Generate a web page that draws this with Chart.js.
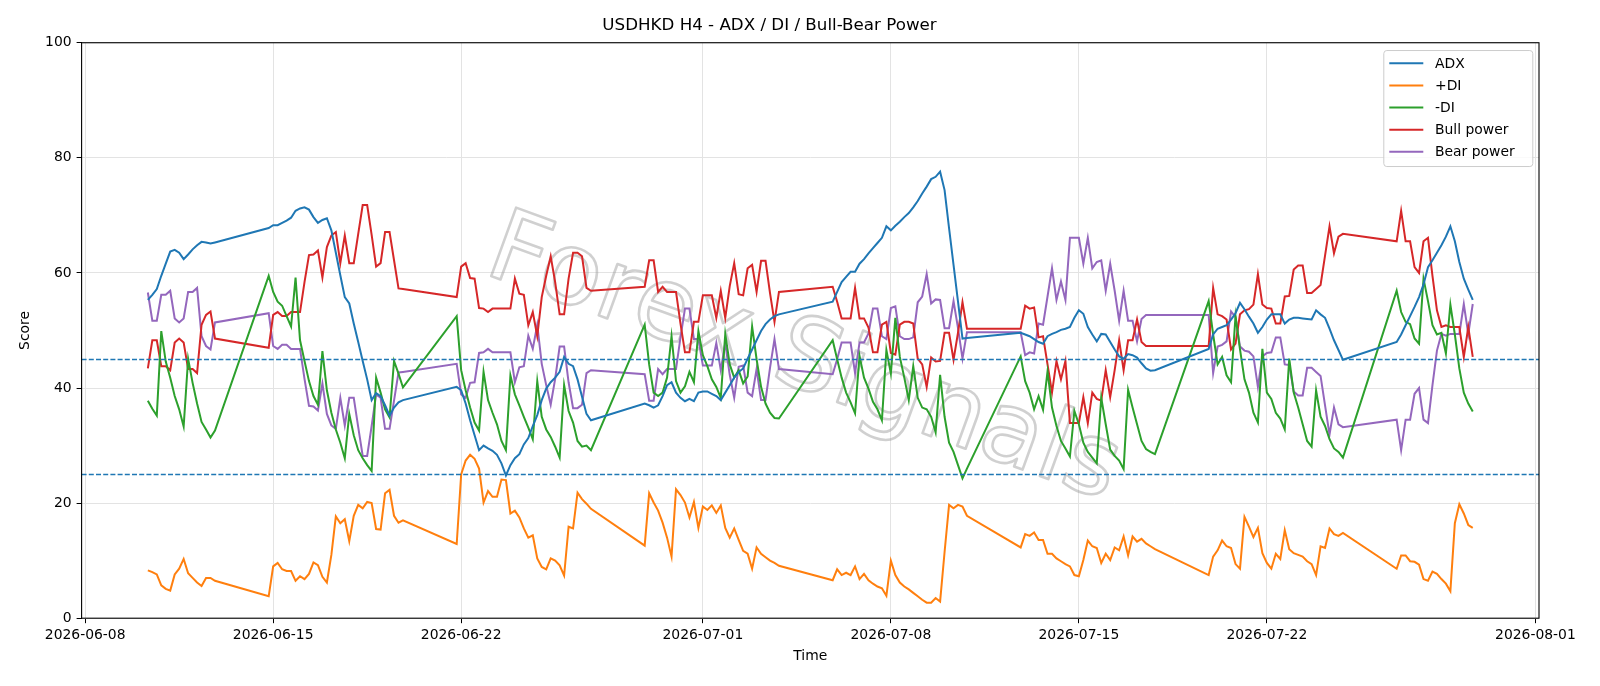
<!DOCTYPE html>
<html><head><meta charset="utf-8">
<script src="https://cdn.jsdelivr.net/npm/chart.js@4.4.1/dist/chart.umd.min.js"></script>
<style>html,body{margin:0;padding:0;background:#fff;}canvas{display:block;}</style>
</head><body>
<canvas id="c" width="1600" height="686"></canvas>
<script>
// H4 sessions: [first bar time (UTC), number of 4-hour bars]
const sessions = [
  ["2026-06-10T08:00", 16], ["2026-06-14T20:00", 31], ["2026-06-21T20:00", 31],
  ["2026-06-28T20:00", 31], ["2026-07-05T20:00", 31], ["2026-07-12T20:00", 31],
  ["2026-07-19T20:00", 31], ["2026-07-26T20:00", 18]
];
const adx = [
  55.3,56.2,57.2,59.5,61.6,63.7,64.0,63.5,62.4,63.2,64.1,64.8,65.4,65.3,65.1,65.3,
  67.8,68.3,68.3,68.7,69.1,69.6,70.8,71.2,71.4,71.0,69.7,68.7,69.2,69.5,67.4,63.5,59.6,55.8,54.7,51.2,48.0,44.7,41.5,37.9,39.1,38.6,37.0,35.2,36.6,37.5,37.9,
  40.2,39.6,37.3,34.4,31.8,29.2,30.0,29.5,29.1,28.4,26.9,24.8,26.6,27.8,28.5,30.2,31.3,33.4,35.3,37.9,39.9,41.0,41.8,42.8,45.4,44.2,43.8,41.5,38.5,35.5,34.4,
  37.3,37.0,36.6,37.0,38.6,40.5,41.0,39.2,38.3,37.7,38.1,37.7,39.2,39.4,39.4,39.0,38.6,37.9,39.2,40.5,41.8,42.8,43.4,45.1,46.7,48.3,49.9,51.1,51.9,52.5,52.8,
  55.0,56.7,58.4,59.3,60.2,60.2,61.6,62.4,63.4,64.3,65.2,66.1,68.1,67.4,68.2,68.9,69.7,70.4,71.4,72.5,73.8,75.0,76.3,76.7,77.6,74.4,67.8,61.4,55.0,48.6,48.7,
  49.6,49.3,49.0,48.5,48.0,47.7,49.0,49.4,49.7,50.1,50.3,50.6,52.2,53.5,52.9,50.6,49.3,48.1,49.4,49.3,48.0,46.7,45.5,45.1,45.9,45.7,45.3,44.3,43.4,43.0,43.1,
  46.8,49.3,50.3,50.6,50.9,51.9,53.0,54.8,53.7,52.4,51.2,49.6,50.6,51.9,52.8,52.8,52.8,51.2,51.9,52.2,52.2,52.1,52.0,51.9,53.5,52.8,52.2,50.3,48.3,46.6,44.9,
  48.0,49.3,50.9,52.5,54.1,55.8,58.0,61.0,62.2,63.5,64.8,66.3,68.1,65.5,61.9,59.0,57.1,55.3
];
const plusDI = [
  8.3,8.0,7.6,5.7,5.1,4.8,7.6,8.6,10.3,7.8,7.0,6.2,5.6,7.0,7.0,6.5,
  3.8,9.0,9.6,8.5,8.2,8.2,6.5,7.3,6.8,7.7,9.7,9.2,7.2,6.2,11.0,17.7,16.5,17.2,13.4,17.8,19.7,19.1,20.2,20.0,15.5,15.4,21.7,22.3,17.8,16.6,17.0,
  12.9,25.0,27.4,28.4,27.7,26.0,20.1,22.1,21.1,21.1,24.1,24.0,18.2,18.7,17.5,15.6,14.0,14.4,10.4,8.9,8.5,10.4,10.0,9.2,7.4,15.9,15.6,21.8,20.7,19.9,19.0,
  12.6,21.7,20.1,18.7,16.6,14.0,10.7,22.4,21.4,20.1,17.5,20.2,15.7,19.4,18.8,19.6,18.3,19.6,15.7,14.0,15.6,13.6,11.7,11.2,8.6,12.3,11.2,10.6,10.0,9.6,9.1,
  6.6,8.5,7.5,7.9,7.5,9.0,6.8,7.7,6.6,6.0,5.5,5.2,3.9,10.0,7.5,6.2,5.5,5.0,4.4,3.8,3.2,2.7,2.7,3.5,2.9,11.5,19.7,19.1,19.7,19.4,17.8,
  12.3,14.6,14.3,14.9,13.6,13.6,11.2,11.2,10.4,9.9,9.4,9.0,7.5,7.3,10.1,13.5,12.5,12.2,9.6,11.2,10.1,12.3,11.8,14.2,10.9,14.2,13.3,13.8,13.0,12.5,12.0,
  7.5,10.7,11.8,13.5,12.5,12.2,9.4,8.6,17.6,15.9,14.1,15.7,11.3,9.6,8.6,11.2,10.3,15.3,12.0,11.3,11.0,10.7,9.9,9.4,7.5,12.5,12.2,15.6,14.6,14.3,14.8,
  8.6,10.9,10.9,9.9,9.8,9.3,6.8,6.5,8.1,7.7,6.8,6.0,4.7,16.5,19.8,18.2,16.2,15.7
];
const minusDI = [
  37.8,36.4,35.2,49.9,44.6,41.8,38.6,36.3,33.3,45.1,40.9,37.3,34.1,32.8,31.4,32.6,
  59.5,56.7,55.0,54.3,52.5,50.7,59.2,48.3,44.7,41.2,38.6,37.1,46.4,39.6,35.7,32.8,30.5,27.8,35.5,31.8,29.2,27.8,26.6,25.6,41.8,39.2,36.3,34.9,44.7,42.5,40.1,
  52.5,43.1,39.6,36.6,34.0,32.6,42.8,37.9,35.7,33.7,30.8,29.2,42.2,38.9,37.0,35.0,33.1,31.1,41.2,35.0,32.8,31.5,29.8,27.9,40.5,36.0,34.0,30.8,29.8,30.0,29.2,
  51.0,44.1,39.2,38.6,39.2,41.8,49.0,41.2,39.2,40.3,42.8,41.0,49.9,45.7,43.8,41.5,40.2,38.3,49.4,44.1,41.8,43.1,40.8,42.0,50.7,45.0,40.2,37.3,35.7,34.8,34.7,
  48.3,45.0,41.8,39.2,37.5,35.6,45.6,41.8,39.9,37.6,36.3,34.4,46.6,42.5,52.2,45.4,41.8,37.9,43.8,38.3,36.6,36.3,35.0,32.3,42.3,35.0,30.5,28.9,26.6,24.3,26.0,
  45.5,41.2,39.2,36.3,38.6,36.2,42.9,36.6,33.4,30.8,29.5,28.1,36.0,33.7,30.5,28.9,27.9,26.9,38.3,33.7,29.3,28.2,27.4,25.9,39.7,36.6,33.7,30.8,29.4,28.9,28.5,
  55.1,49.3,44.1,45.4,42.2,41.0,52.5,46.7,41.5,39.2,35.7,34.0,46.8,39.2,38.1,35.7,34.7,32.8,45.1,39.2,36.6,33.7,30.8,29.8,39.6,35.0,33.4,31.1,29.5,28.9,27.9,
  56.9,53.2,51.5,51.1,48.6,47.7,59.0,55.1,50.9,49.3,49.6,46.0,54.5,49.3,43.4,39.2,37.3,35.9
];
const bullPower = [
  43.4,48.3,48.3,43.8,43.8,43.1,47.9,48.6,47.9,43.3,43.3,42.6,51.0,52.7,53.3,48.6,
  47.0,52.7,53.2,52.5,52.5,53.2,53.2,53.2,58.4,63.1,63.2,63.9,59.2,64.5,66.5,67.1,61.7,66.5,61.7,61.7,66.8,71.8,71.8,66.6,61.1,61.7,67.1,67.1,62.2,57.3,57.2,
  55.8,61.1,61.7,59.1,59.0,53.9,53.8,53.2,53.8,53.8,53.8,53.8,53.8,59.0,56.4,56.2,50.9,53.2,49.0,55.8,59.5,62.9,58.4,52.8,52.8,59.0,63.5,63.5,62.9,57.4,56.9,
  57.6,62.2,62.2,56.7,57.6,56.7,56.7,56.7,51.2,46.2,46.2,51.5,51.5,56.1,56.1,56.1,52.2,56.9,52.2,57.7,61.7,56.3,56.1,60.8,61.4,56.7,62.1,62.1,56.5,51.5,56.7,
  57.6,55.0,52.1,52.1,52.1,57.4,52.1,52.1,50.5,46.2,46.2,51.0,51.5,46.1,45.8,51.0,51.5,51.5,51.2,45.1,44.1,40.2,45.3,44.6,44.7,49.6,49.6,44.9,49.6,54.9,50.3,
  50.3,54.3,53.8,54.0,48.8,49.0,44.1,39.2,44.7,41.5,44.7,33.9,33.9,33.9,38.4,33.9,39.2,38.1,37.8,43.1,38.4,43.1,48.3,43.1,48.3,48.3,51.9,48.0,47.3,47.3,47.3,
  47.3,57.4,52.8,52.5,51.9,46.7,47.7,52.8,53.5,53.7,54.5,59.8,54.5,53.9,53.8,51.2,51.2,55.9,56.0,60.6,61.3,61.3,56.5,56.5,57.2,57.9,63.0,68.1,63.4,66.3,66.8,
  65.5,70.8,65.5,65.5,61.0,60.0,65.5,66.1,59.5,53.5,50.6,50.9,50.6,50.6,50.6,45.4,50.6,45.4
];
const bearPower = [
  56.6,51.7,51.7,56.2,56.2,56.9,52.1,51.4,52.1,56.7,56.7,57.4,49.0,47.3,46.7,51.4,
  53.0,47.3,46.8,47.5,47.5,46.8,46.8,46.8,41.6,36.9,36.8,36.1,40.8,35.5,33.5,32.9,38.3,33.5,38.3,38.3,33.2,28.2,28.2,33.4,38.9,38.3,32.9,32.9,37.8,42.7,42.8,
  44.2,38.9,38.3,40.9,41.0,46.1,46.2,46.8,46.2,46.2,46.2,46.2,46.2,41.0,43.6,43.8,49.1,46.8,51.0,44.2,40.5,37.1,41.6,47.2,47.2,41.0,36.5,36.5,37.1,42.6,43.1,
  42.4,37.8,37.8,43.3,42.4,43.3,43.3,43.3,48.8,53.8,53.8,48.5,48.5,43.9,43.9,43.9,47.8,43.1,47.8,42.3,38.3,43.7,43.9,39.2,38.6,43.3,37.9,37.9,43.5,48.5,43.3,
  42.4,45.0,47.9,47.9,47.9,42.6,47.9,47.9,49.5,53.8,53.8,49.0,48.5,53.9,54.2,49.0,48.5,48.5,48.8,54.9,55.9,59.8,54.7,55.4,55.3,50.4,50.4,55.1,50.4,45.1,49.7,
  49.7,45.7,46.2,46.0,51.2,51.0,55.9,60.8,55.3,58.5,55.3,66.1,66.1,66.1,61.6,66.1,60.8,61.9,62.2,56.9,61.6,56.9,51.7,56.9,51.7,51.7,48.1,52.0,52.7,52.7,52.7,
  52.7,42.6,47.2,47.5,48.1,53.3,52.3,47.2,46.5,46.3,45.5,40.2,45.5,46.1,46.2,48.8,48.8,44.1,44.0,39.4,38.7,38.7,43.5,43.5,42.8,42.1,37.0,31.9,36.6,33.7,33.2,
  34.5,29.2,34.5,34.5,39.0,40.0,34.5,33.9,40.5,46.5,49.4,49.1,49.4,49.4,49.4,54.6,49.4,54.6
];
const seriesNames = ["ADX", "+DI", "-DI", "Bull power", "Bear power"];
const seriesColors = ["#1f77b4", "#ff7f0e", "#2ca02c", "#d62728", "#9467bd"];
const xTickLabels = ["2026-06-08","2026-06-15","2026-06-22","2026-07-01","2026-07-08","2026-07-15","2026-07-22","2026-08-01"];
const yTickValues = [0, 20, 40, 60, 80, 100];
const thresholds = [45, 25];
const titleText = "USDHKD H4 - ADX / DI / Bull-Bear Power";
const watermarkText = "Forex Signals";

// expand sessions into bar timestamps
const times = [];
sessions.forEach(([start, n]) => {
  const t0 = Date.parse(start + ":00Z");
  for (let i = 0; i < n; i++) times.push(t0 + i * 4 * 3600e3);
});
const tMin = times[0], tMax = times[times.length - 1];
const pad = (tMax - tMin) * 0.05;

const FONT = "DejaVu Sans";
Chart.defaults.font.family = FONT;
Chart.defaults.color = "#000";

const allSeries = [adx, plusDI, minusDI, bullPower, bearPower];
const datasets = allSeries.map((arr, k) => ({
  label: seriesNames[k],
  data: arr.map((v, i) => ({ x: times[i], y: v })),
  borderColor: seriesColors[k],
  backgroundColor: seriesColors[k],
  borderWidth: 2,
  pointRadius: 0,
  tension: 0,
  fill: false
}));

const gridColor = "#e3e3e3";

const overlay = {
  id: "overlay",
  beforeDatasetsDraw(chart) {
    const { ctx, chartArea: a } = chart;
    ctx.save();
    ctx.beginPath();
    ctx.rect(a.left, a.top, a.right - a.left, a.bottom - a.top);
    ctx.clip();
    ctx.translate(803, 362);
    ctx.rotate(20 * Math.PI / 180);
    ctx.font = "100px " + FONT;
    ctx.textAlign = "center";
    ctx.textBaseline = "middle";
    ctx.strokeStyle = "rgba(150,150,150,0.45)";
    ctx.lineWidth = 2.6;
    ctx.lineJoin = "round";
    ctx.strokeText(watermarkText, 0, 0);
    ctx.restore();
  },
  afterDatasetsDraw(chart) {
    const { ctx, chartArea: a, scales: { y } } = chart;
    ctx.save();
    ctx.strokeStyle = "#1f77b4";
    ctx.lineWidth = 1.3;
    ctx.setLineDash([5, 2.2]);
    thresholds.forEach(v => {
      const py = Math.round(y.getPixelForValue(v)) + 0.5;
      ctx.beginPath(); ctx.moveTo(a.left, py); ctx.lineTo(a.right, py); ctx.stroke();
    });
    ctx.restore();
  },
  afterDraw(chart) {
    const { ctx, chartArea: a } = chart;
    ctx.save();
    ctx.strokeStyle = "#000";
    ctx.lineWidth = 1.1;
    ctx.strokeRect(a.left, a.top, a.right - a.left, a.bottom - a.top);
    const w = 149, h = 116;
    const bx = a.right - 6.7 - w, by = a.top + 7.3;
    ctx.fillStyle = "rgba(255,255,255,0.8)";
    ctx.strokeStyle = "#cccccc";
    ctx.lineWidth = 1;
    ctx.beginPath();
    ctx.roundRect(bx + 0.5, by + 0.5, w, h, 3);
    ctx.fill(); ctx.stroke();
    ctx.font = "13.9px " + FONT;
    ctx.textBaseline = "middle";
    ctx.textAlign = "left";
    chart.data.datasets.forEach((ds, i) => {
      const ly = by + 13.3 + i * 22.1;
      ctx.strokeStyle = ds.borderColor;
      ctx.lineWidth = 2;
      ctx.beginPath(); ctx.moveTo(bx + 6, ly); ctx.lineTo(bx + 40, ly); ctx.stroke();
      ctx.fillStyle = "#000";
      ctx.fillText(ds.label, bx + 51.7, ly + 1);
    });
    ctx.restore();
  }
};

new Chart(document.getElementById("c"), {
  type: "line",
  data: { datasets },
  plugins: [overlay],
  options: {
    responsive: false,
    animation: false,
    devicePixelRatio: 1,
    layout: { padding: { left: 0, right: 61, top: 0, bottom: 0 } },
    plugins: {
      legend: { display: false },
      tooltip: { enabled: false },
      title: {
        display: true, text: titleText, color: "#000",
        font: { family: FONT, size: 16.7, weight: "normal" },
        padding: { top: 16, bottom: 6.7 }
      }
    },
    scales: {
      x: {
        type: "linear",
        min: tMin - pad, max: tMax + pad,
        afterBuildTicks: s => { s.ticks = xTickLabels.map(d => ({ value: Date.parse(d + "T00:00:00Z") })); },
        afterFit: s => { s.height = 67.8; },
        ticks: {
          autoSkip: false, maxRotation: 0, padding: 4,
          font: { family: FONT, size: 13.9 }, color: "#000",
          callback: v => new Date(v).toISOString().slice(0, 10)
        },
        grid: { color: gridColor, lineWidth: 1, tickColor: "#000", tickLength: 5 },
        border: { display: false },
        title: { display: true, text: "Time", color: "#000", font: { family: FONT, size: 13.9 }, padding: { top: 0, bottom: 21.6 } }
      },
      y: {
        min: 0, max: 100,
        afterBuildTicks: s => { s.ticks = yTickValues.map(v => ({ value: v })); },
        afterFit: s => { s.width = 81.6; },
        ticks: { padding: 5, font: { family: FONT, size: 13.9 }, color: "#000" },
        grid: { color: gridColor, lineWidth: 1, tickColor: "#000", tickLength: 5 },
        border: { display: false },
        title: { display: true, text: "Score", color: "#000", font: { family: FONT, size: 13.9 }, padding: { top: 17, bottom: 0 } }
      }
    }
  }
});
</script>
</body></html>
